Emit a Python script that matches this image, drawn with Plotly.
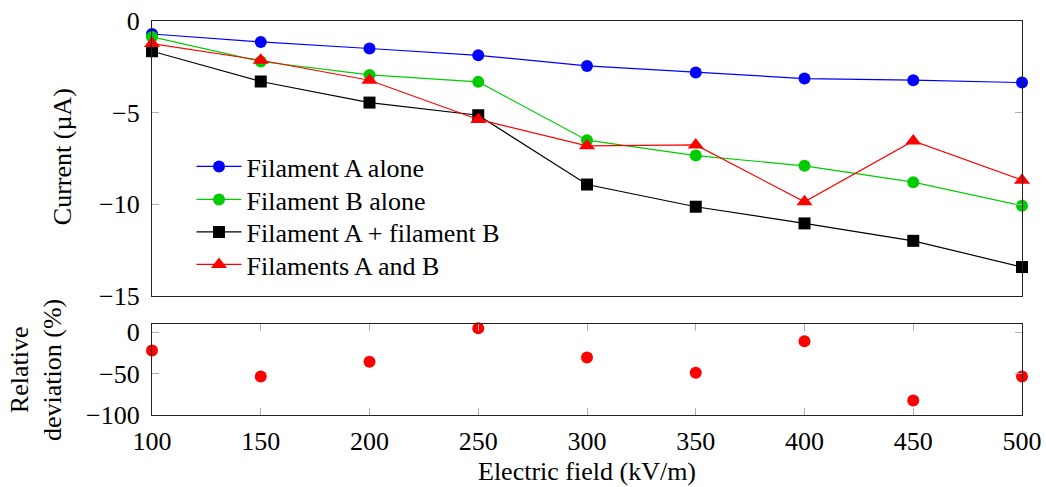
import plotly.graph_objects as go

field = [100, 150, 200, 250, 300, 350, 400, 450, 500]
fil_a_alone = [-0.71, -1.14, -1.50, -1.87, -2.45, -2.81, -3.14, -3.23, -3.36]
fil_b_alone = [-0.87, -2.21, -2.94, -3.32, -6.50, -7.34, -7.90, -8.79, -10.08]
fil_a_plus_b = [-1.65, -3.30, -4.45, -5.14, -8.92, -10.13, -11.04, -11.99, -13.42]
fil_a_and_b = [-1.23, -2.14, -3.23, -5.37, -6.81, -6.76, -9.86, -6.54, -8.68]
rel_dev = [-22, -53.5, -35.5, 4.8, -30.4, -48.8, -10.8, -82.4, -53.6]

FONT = "'Liberation Serif', 'Times New Roman', Times, serif"
FS = 26

fig = go.Figure()
series = [
    ("Filament A alone", fil_a_alone, "#0000ff", "circle", 12, "legend"),
    ("Filament B alone", fil_b_alone, "#00cc00", "circle", 12, "legend2"),
    ("Filament A + filament B", fil_a_plus_b, "#000000", "square", 12, "legend3"),
    ("Filaments A and B", fil_a_and_b, "#ff0000", "triangle-up", 14, "legend4"),
]
for name, ys, col, sym, sz, lg in series:
    fig.add_trace(go.Scatter(
        x=field, y=ys, name=name, mode="lines+markers",
        line=dict(color=col, width=1.2),
        marker=dict(color=col, symbol=sym, size=sz, line=dict(width=0)),
        cliponaxis=False, xaxis="x", yaxis="y", legend=lg))

fig.add_trace(go.Scatter(
    x=field, y=rel_dev, mode="markers", showlegend=False,
    marker=dict(color="#ff0000", symbol="circle", size=12, line=dict(width=0)),
    cliponaxis=False, xaxis="x2", yaxis="y2"))

axis_common = dict(showline=True, linecolor="#222222", linewidth=1.2, mirror="ticks",
                   showgrid=False, zeroline=False, ticks="inside", ticklen=7,
                   tickcolor="#b0b0b0", tickwidth=1.2, automargin=False,
                   tickfont=dict(family=FONT, size=FS, color="black"))

def legend_at(ypx):
    return dict(x=0.0454, y=(415 - ypx) / 394, xanchor="left", yanchor="middle",
                bgcolor="rgba(0,0,0,0)", borderwidth=0,
                font=dict(family=FONT, size=FS, color="black"), itemwidth=45)

fig.update_layout(
    width=1046, height=487,
    margin=dict(l=152, r=24, t=21, b=72),
    paper_bgcolor="white", plot_bgcolor="white",
    font=dict(family=FONT, size=FS, color="black"),
    xaxis=dict(axis_common, domain=[0, 1], range=[100, 500], anchor="y",
               showticklabels=False, ticks=""),
    yaxis=dict(axis_common, domain=[0.302, 1], range=[-15, 0],
               tickvals=[0, -5, -10, -15], anchor="x", ticklabelstandoff=6),
    xaxis2=dict(axis_common, domain=[0, 1], range=[100, 500], anchor="y2",
                tickvals=field, ticklabelstandoff=3),
    yaxis2=dict(axis_common, domain=[0, 0.231], range=[-100, 10],
                tickvals=[0, -50, -100], anchor="x2", ticklabelstandoff=6),
    legend=legend_at(166.5),
    legend2=legend_at(199.5),
    legend3=legend_at(232),
    legend4=legend_at(264.5),
    showlegend=True,
    annotations=[
        dict(text="Current (µA)", xref="paper", yref="paper", x=-0.102, y=0.655,
             textangle=-90, showarrow=False, xanchor="center", yanchor="middle",
             font=dict(family=FONT, size=FS)),
        dict(text="Relative<br>deviation (%)", xref="paper", yref="paper", x=-0.133,
             y=0.115, textangle=-90, showarrow=False, xanchor="center",
             yanchor="middle", font=dict(family=FONT, size=FS)),
        dict(text="Electric field (kV/m)", xref="paper", yref="paper", x=0.5,
             y=-0.143, showarrow=False, xanchor="center", yanchor="middle",
             font=dict(family=FONT, size=FS)),
    ],
)

fig.write_html("out.html")
